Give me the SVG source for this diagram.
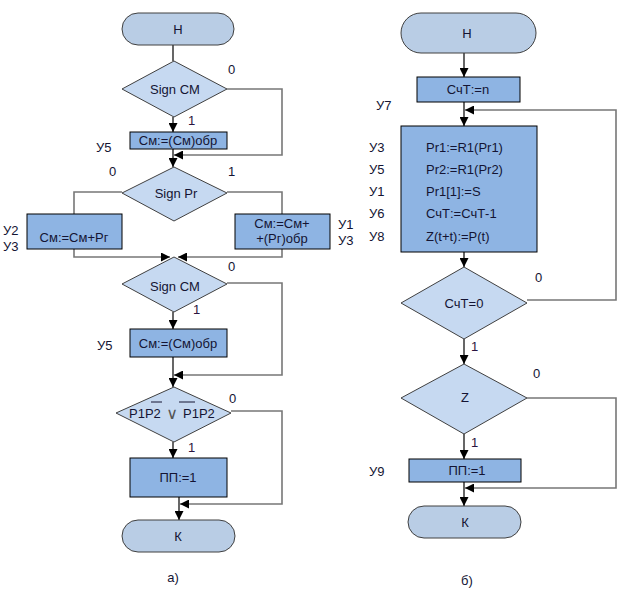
<svg xmlns="http://www.w3.org/2000/svg" width="620" height="600" viewBox="0 0 620 600">
<style>
text{font-family:"Liberation Sans",Arial,sans-serif;font-size:13px;fill:#141433}
.c{text-anchor:middle}
.term{fill:#b9cde5;stroke:#404040;stroke-width:1}
.dec{fill:#c6d9f1;stroke:#404040;stroke-width:1}
.box{fill:#8eb4e3;stroke:#000;stroke-width:1}
.ln{fill:none;stroke:#000;stroke-width:1.2}
.gl{fill:none;stroke:#777;stroke-width:1.6}
.ar{marker-end:url(#ah)}
.lbl1{fill:#2a1440}
</style>
<defs>
<marker id="ah" markerUnits="userSpaceOnUse" markerWidth="9" markerHeight="9" refX="9" refY="4.5" orient="auto">
<path d="M0,0 L9,4.5 L0,9 z" fill="#000"/>
</marker>
</defs>
<rect width="620" height="600" fill="#fff"/>

<g id="connectors">
<!-- left -->
<line class="ln" x1="173" y1="45" x2="173" y2="61"/>
<line class="ln ar" x1="173" y1="117" x2="173" y2="132"/>
<polyline class="gl ar" points="227,89 282,89 282,155 174,155"/>
<line class="ln ar" x1="173" y1="149" x2="173" y2="167"/>
<polyline class="gl" points="122,192 74,192 74,214"/>
<polyline class="gl" points="227,192 282,192 282,214"/>
<polyline class="gl ar" points="74,249 74,257 170,257"/>
<polyline class="gl ar" points="282,249 282,257 178,257"/>
<line class="ln ar" x1="173" y1="312" x2="173" y2="329"/>
<polyline class="gl ar" points="227,283 282,283 282,375 174,375"/>
<line class="ln ar" x1="173" y1="357" x2="173" y2="387"/>
<polyline class="gl ar" points="231,411 282,411 282,504 180,504"/>
<line class="ln ar" x1="173" y1="442" x2="173" y2="458"/>
<line class="ln ar" x1="179" y1="497" x2="179" y2="520"/>
<!-- right -->
<line class="ln ar" x1="464" y1="53" x2="464" y2="77"/>
<line class="ln ar" x1="464" y1="102" x2="464" y2="126"/>
<polyline class="gl ar" points="527,300 616,300 616,110 465,110"/>
<line class="ln ar" x1="464" y1="252" x2="464" y2="267"/>
<line class="ln ar" x1="464" y1="339" x2="464" y2="364"/>
<polyline class="gl ar" points="527,398 616,398 616,488 465,488"/>
<line class="ln ar" x1="464" y1="434" x2="464" y2="459"/>
<line class="ln ar" x1="464" y1="482" x2="464" y2="506"/>
</g>

<!-- left flowchart -->
<g id="a_start"><rect class="term" x="122" y="13" width="112" height="32" rx="16"/><text class="c" x="178" y="34">Н</text></g>
<g id="a_sign1"><polygon class="dec" points="174,61 227,89 174,117 122,89"/><text class="c" x="175" y="94">Sign CM</text>
<text x="228" y="74">0</text><text class="lbl1" x="188" y="125">1</text></g>
<g id="a_inv1"><rect class="box" x="130" y="132" width="97" height="17"/><text class="c" x="178" y="145">См:=(См)обр</text><text x="96" y="152">У5</text></g>
<g id="a_signpr"><polygon class="dec" points="174,167 227,193 174,221 122,193"/><text class="c" x="176" y="198">Sign Pr</text>
<text x="109" y="176">0</text><text x="228" y="176">1</text></g>
<g id="a_add"><rect class="box" x="27" y="214" width="95" height="35"/><text class="c" x="74" y="242">См:=См+Рг</text>
<text x="3" y="235">У2</text><text x="3" y="251">У3</text></g>
<g id="a_addinv"><rect class="box" x="235" y="214" width="95" height="35"/><text class="c" x="282" y="228">См:=См+</text><text class="c" x="282" y="243">+(Рг)обр</text>
<text x="338" y="229">У1</text><text x="338" y="245">У3</text></g>
<g id="a_sign2"><polygon class="dec" points="174,257 227,284 174,312 122,284"/><text class="c" x="175" y="291">Sign CM</text>
<text x="228" y="271">0</text><text class="lbl1" x="193" y="314">1</text></g>
<g id="a_inv2"><rect class="box" x="130" y="329" width="97" height="28"/><text class="c" x="178" y="348">См:=(См)обр</text><text x="97" y="350">У5</text></g>
<g id="a_xor"><polygon class="dec" points="174,387 231,413 174,442 116,413"/>
<text x="129" y="418">P1P2</text><text x="183" y="418">P1P2</text>
<text class="c" x="172" y="419" style="font-family:'DejaVu Sans',sans-serif;font-size:16px;fill:#555">∨</text>
<line x1="151" y1="402" x2="162" y2="402" stroke="#141433" stroke-width="1"/>
<line x1="179" y1="402" x2="195" y2="402" stroke="#141433" stroke-width="1"/>
<text x="229" y="403">0</text><text class="lbl1" x="188" y="452">1</text></g>
<g id="a_pp"><rect class="box" x="130" y="458" width="97" height="39"/><text class="c" x="178" y="482">ПП:=1</text></g>
<g id="a_end"><rect class="term" x="122" y="520" width="113" height="32" rx="16"/><text class="c" x="178" y="541">К</text></g>
<text class="c" x="173" y="582">а)</text>

<!-- right flowchart -->
<g id="b_start"><rect class="term" x="401" y="13" width="135" height="40" rx="20"/><text class="c" x="467" y="38">Н</text></g>
<g id="b_init"><rect class="box" x="417" y="77" width="103" height="25"/><text class="c" x="468" y="94">СчТ:=n</text><text x="376" y="110">У7</text></g>
<g id="b_body"><rect class="box" x="401" y="126" width="136" height="126"/>
<text x="426" y="152">Pr1:=R1(Pr1)</text>
<text x="426" y="174">Pr2:=R1(Pr2)</text>
<text x="426" y="196">Pr1[1]:=S</text>
<text x="426" y="218">СчТ:=СчТ-1</text>
<text x="426" y="241">Z(t+t):=P(t)</text>
<text x="369" y="152">У3</text>
<text x="369" y="174">У5</text>
<text x="369" y="196">У1</text>
<text x="369" y="218">У6</text>
<text x="369" y="241">У8</text></g>
<g id="b_cnt"><polygon class="dec" points="464,267 527,303 464,339 401,303"/><text class="c" x="464" y="308">СчТ=0</text>
<text x="535" y="282">0</text><text class="lbl1" x="471" y="351">1</text></g>
<g id="b_z"><polygon class="dec" points="464,364 527,398 464,434 401,398"/><text class="c" x="465" y="402">Z</text>
<text x="533" y="378">0</text><text class="lbl1" x="471" y="447">1</text></g>
<g id="b_pp"><rect class="box" x="409" y="459" width="112" height="23"/><text class="c" x="467" y="475">ПП:=1</text><text x="369" y="476">У9</text></g>
<g id="b_end"><rect class="term" x="408" y="506" width="113" height="32" rx="16"/><text class="c" x="465" y="527">К</text></g>
<text class="c" x="467" y="585">б)</text>
</svg>
